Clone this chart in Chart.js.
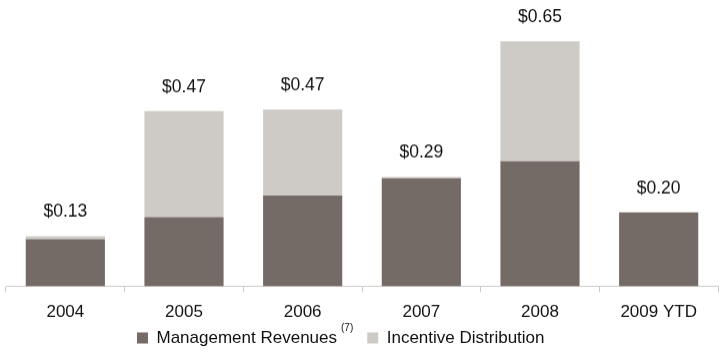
<!DOCTYPE html>
<html>
<head>
<meta charset="utf-8">
<script src="https://cdn.jsdelivr.net/npm/chart.js@4/dist/chart.umd.min.js"></script>
<style>
  html, body { margin: 0; padding: 0; background: #fff; overflow: hidden; }
  #wrap { width: 720px; height: 355.5px; position: relative; }
</style>
</head>
<body>
<div id="wrap"><canvas id="grafico"></canvas></div>
<script>
// dados (US$ por unidade)
const categorias = ['2004', '2005', '2006', '2007', '2008', '2009 YTD'];
const receitasGestao = [0.125, 0.184, 0.241, 0.287, 0.332, 0.196];
const distribuicaoIncentivo = [0.008, 0.281, 0.228, 0.003, 0.318, 0];
const rotulosTotais = ['$0.13', '$0.47', '$0.47', '$0.29', '$0.65', '$0.20'];

const corGestao = '#746a66';
const corIncentivo = '#cecac5';
const fonte = '"Liberation Sans", Arial, Helvetica, sans-serif';

// escreve o total acima de cada coluna
const pluginTotais = {
    id: 'totais',
    afterDatasetsDraw(chart) {
        const ctx = chart.ctx;
        const escalaY = chart.scales.y;
        const meta = chart.getDatasetMeta(0);
        ctx.save();
        ctx.font = '17.5px ' + fonte;
        ctx.fillStyle = '#111';
        ctx.textAlign = 'center';
        ctx.textBaseline = 'middle';
        categorias.forEach((c, i) => {
            const total = receitasGestao[i] + distribuicaoIncentivo[i];
            const y = escalaY.getPixelForValue(total);
            ctx.fillText(rotulosTotais[i], meta.data[i].x, y - 24);
        });
        ctx.restore();
    }
};

// nota "(7)" ao lado da legenda
const pluginNota = {
    id: 'nota',
    afterDraw(chart) {
        const leg = chart.legend;
        if (!leg || !leg.legendHitBoxes.length) return;
        const hb = leg.legendHitBoxes[0];
        const ctx = chart.ctx;
        ctx.save();
        ctx.font = '17px ' + fonte;
        const larg = ctx.measureText('Management Revenues').width;
        ctx.font = '10px ' + fonte;
        ctx.fillStyle = '#111';
        ctx.textBaseline = 'middle';
        ctx.fillText('(7)', hb.left + 11 + 8.5 + larg + 4, hb.top + hb.height / 2 - 10);
        ctx.restore();
    }
};

new Chart(document.getElementById('grafico').getContext('2d'), {
    type: 'bar',
    data: {
        labels: categorias,
        datasets: [{
            label: 'Management Revenues',
            data: receitasGestao,
            backgroundColor: corGestao
        }, {
            label: 'Incentive Distribution',
            data: distribuicaoIncentivo,
            backgroundColor: corIncentivo
        }]
    },
    options: {
        responsive: true,
        maintainAspectRatio: false,
        animation: false,
        layout: { padding: { left: 6, right: 2, top: 0, bottom: 0 } },
        datasets: {
            bar: { categoryPercentage: 1, barPercentage: 0.667 }
        },
        scales: {
            x: {
                stacked: true,
                grid: { display: true, drawOnChartArea: false, drawTicks: true, tickLength: 6, color: '#cfcbc7' },
                border: { display: true, color: '#cfcbc7' },
                ticks: { color: '#111', padding: 10, font: { family: fonte, size: 17 } },
                afterFit(escala) { escala.height -= 10; }
            },
            y: {
                stacked: true,
                display: false,
                min: 0,
                max: 0.76
            }
        },
        plugins: {
            tooltip: { enabled: false },
            legend: {
                position: 'bottom',
                labels: {
                    boxWidth: 11,
                    boxHeight: 11,
                    padding: 6.6,
                    color: '#111',
                    font: { family: fonte, size: 17 },
                    generateLabels(chart) {
                        const itens = Chart.defaults.plugins.legend.labels.generateLabels(chart);
                        itens[0].text = itens[0].text + '     ';
                        itens[1].text = itens[1].text + '         ';
                        itens.forEach(it => { it.lineWidth = 0; });
                        return itens;
                    }
                }
            }
        }
    },
    plugins: [pluginTotais, pluginNota]
});
</script>
</body>
</html>
